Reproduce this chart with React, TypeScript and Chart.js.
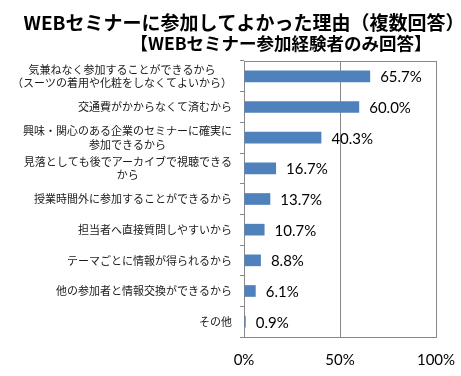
import { useEffect, useRef } from 'react';
import { Chart, registerables } from 'chart.js';

Chart.register(...registerables);

const TITLE = 'WEBセミナーに参加してよかった理由（複数回答）';
const SUBTITLE = '【WEBセミナー参加経験者のみ回答】';

const categories: string[][] = [
  ['気兼ねなく参加することができるから', '（スーツの着用や化粧をしなくてよいから）'],
  ['交通費がかからなくて済むから'],
  ['興味・関心のある企業のセミナーに確実に', '参加できるから'],
  ['見落としても後でアーカイブで視聴できる', 'から'],
  ['授業時間外に参加することができるから'],
  ['担当者へ直接質問しやすいから'],
  ['テーマごとに情報が得られるから'],
  ['他の参加者と情報交換ができるから'],
  ['その他'],
];

const values: number[] = [65.7, 60.0, 40.3, 16.7, 13.7, 10.7, 8.8, 6.1, 0.9];

const xMin = 0;
const xMax = 100;
const xStep = 50;

const BAR = '#4F81BD';
const GRID = '#888888';
const CJK = '"Noto Sans CJK JP", sans-serif';

const decor = {
  id: 'decor',
  afterDatasetsDraw(chart: any) {
    const ctx: CanvasRenderingContext2D = chart.ctx;
    const { left, top, right } = chart.chartArea;
    ctx.save();
    // top border of plot box
    ctx.strokeStyle = GRID;
    ctx.lineWidth = 1;
    ctx.beginPath();
    ctx.moveTo(left, Math.round(top) + 0.5);
    ctx.lineTo(right, Math.round(top) + 0.5);
    ctx.stroke();

    // value labels
    const meta = chart.getDatasetMeta(0);
    ctx.font = '15px Lato, sans-serif';
    ctx.fillStyle = '#000';
    ctx.textAlign = 'left';
    ctx.textBaseline = 'middle';
    meta.data.forEach((bar: any, i: number) => {
      ctx.fillText(values[i].toFixed(1) + '%', bar.x + 10, bar.y + 1);
    });

    // category labels (block right-aligned, lines centered)
    const ys = chart.scales.y;
    ctx.font = '11px ' + CJK;
    ctx.fillStyle = '#1a1a1a';
    ctx.textAlign = 'center';
    const lh = 13.4;
    (chart.data.labels as string[][]).forEach((lines, i) => {
      const w = Math.max(...lines.map((l) => ctx.measureText(l).width));
      const cx = left - 12 - w / 2;
      const cy = ys.getPixelForValue(i);
      lines.forEach((l, j) => {
        ctx.fillText(l, cx, cy + (j - (lines.length - 1) / 2) * lh);
      });
    });

    // titles
    ctx.fillStyle = '#000';
    ctx.font = 'bold 19px ' + CJK;
    ctx.fillText(TITLE, 244, 23);
    ctx.font = 'bold 17.5px ' + CJK;
    ctx.fillText(SUBTITLE, 281, 43);
    ctx.restore();
  },
};

export default function App() {
  const ref = useRef<HTMLCanvasElement>(null);

  useEffect(() => {
    document.body.style.margin = '0';
    const chart = new Chart(ref.current!, {
      type: 'bar',
      data: {
        labels: categories,
        datasets: [
          {
            data: values,
            backgroundColor: BAR,
            borderWidth: 0,
            barPercentage: 0.38,
            categoryPercentage: 1,
          },
        ],
      },
      options: {
        indexAxis: 'y',
        animation: false,
        responsive: true,
        maintainAspectRatio: false,
        layout: { padding: { top: 61, right: 25, left: 0, bottom: 0 } },
        plugins: {
          legend: { display: false },
          tooltip: { enabled: false },
          title: { display: false },
        },
        scales: {
          x: {
            min: xMin,
            max: xMax,
            ticks: {
              stepSize: xStep,
              callback: (v: any) => v + '%',
              font: { family: 'Lato, sans-serif', size: 15 },
              color: '#000',
              padding: 14,
              maxRotation: 0,
            },
            grid: { color: GRID, drawTicks: false },
            border: { color: GRID },
            afterFit: (s: any) => {
              s.height = 39;
              s.paddingLeft = 0;
              s.paddingRight = 0;
            },
          },
          y: {
            type: 'category',
            ticks: { display: false },
            grid: {
              drawOnChartArea: false,
              drawTicks: true,
              tickLength: 4,
              color: GRID,
              offset: true,
            },
            border: { color: GRID },
            afterFit: (s: any) => {
              s.width = 244;
              s.paddingTop = 0;
              s.paddingBottom = 0;
            },
          },
        },
      },
      plugins: [decor],
    });
    return () => chart.destroy();
  }, []);

  return (
    <div style={{ width: 461, height: 376, position: 'relative' }}>
      <canvas ref={ref} />
    </div>
  );
}
